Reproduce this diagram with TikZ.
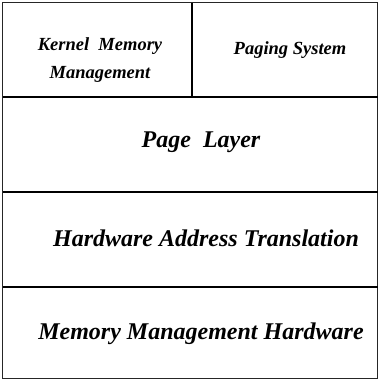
\documentclass[tikz,border=0pt]{standalone}
\usepackage{fontspec}
\setmainfont{Liberation Serif}
\begin{document}
\begin{tikzpicture}[x=1pt,y=-1pt,
  frame/.style={line width=1.6pt,draw=black!85},
  divider/.style={line width=2pt,draw=black},
  small/.style={font=\fontsize{18.5}{28}\selectfont\bfseries\itshape, align=center, inner sep=0pt},
  large/.style={font=\fontsize{24}{28}\selectfont\bfseries\itshape, align=center, inner sep=0pt}]
\useasboundingbox (0,0) rectangle (380,381);
% outer frame
\draw[frame] (2.5,2.5) rectangle (377.5,378.5);
% layer dividers
\draw[divider] (2.5,97) -- (377.5,97);
\draw[divider] (192,2.5) -- (192,97);
\draw[divider] (2.5,192) -- (377.5,192);
\draw[divider] (2.5,287) -- (377.5,287);
% layer names
\node[small] (kmm) at (100,60) {Kernel~~Memory\\Management};
\node[small] (ps) at (290,50) {Paging System};
\node[large] (pl) at (201,142) {Page~~Layer};
\node[large] (hat) at (206,238) {Hardware Address Translation};
\node[large] (mmh) at (201,334) {Memory Management Hardware};
\end{tikzpicture}
\end{document}
